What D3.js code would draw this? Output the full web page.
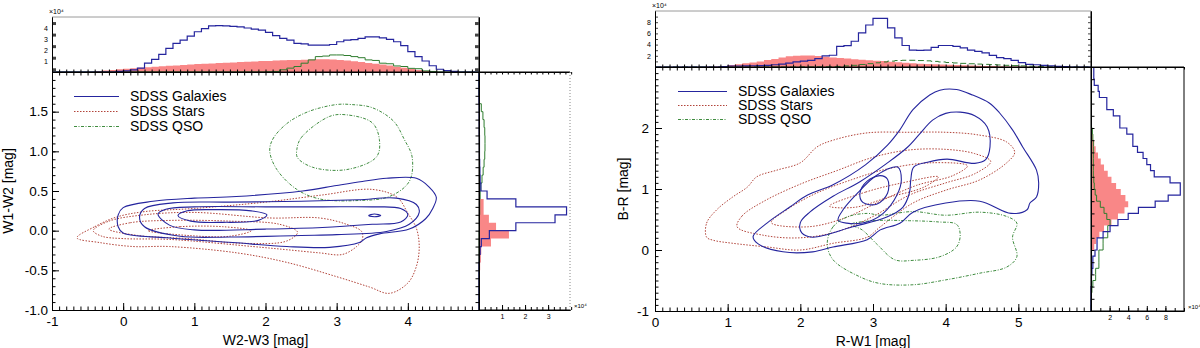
<!DOCTYPE html>
<html>
<head>
<meta charset="utf-8">
<script src="https://cdn.jsdelivr.net/npm/d3@7"></script>
<style>
body { margin: 0; background: #fff; }
svg { display: block; }
</style>
</head>
<body>
<script>
// ---------- data ----------
var seriesNames = ["SDSS Galaxies", "SDSS Stars", "SDSS QSO"];

// left panel: W2-W3 vs W1-W2
var leftTopStart = -1, leftSideStart = -1, binW = 0.1;
var leftTopGal = [0,0,0,0,0,0,0,0,0,0.05, 0.1,0.2,0.35,0.8,1.15,1.6,2.15,2.6,2.9,3.27,
  3.66,3.94,4.2,4.22,4.2,4.15,4.1,4.0,3.9,3.8, 3.6,3.3,3.06,2.9,2.6,2.55,2.45,2.45,2.45,2.5,
  2.75,2.9,2.95,3.06,3.2,3.2,3.1,2.97,2.75,2.39, 1.85,1.4,1.0,0.57,0.25,0.12,0.05,0,0,0];
var leftTopStar = [0,0,0,0,0,0.03,0.08,0.13,0.18,0.24, 0.3,0.35,0.39,0.43,0.47,0.52,0.56,0.6,0.64,0.68,
  0.72,0.75,0.78,0.81,0.84,0.87,0.9,0.93,0.96,0.99, 1.01,1.04,1.06,1.08,1.1,1.12,1.14,1.15,1.15,1.14,
  1.1,1.05,0.98,0.9,0.82,0.75,0.68,0.58,0.48,0.38, 0.28,0.19,0.1,0.04,0,0,0,0,0,0];
var leftTopQso = [0,0,0,0,0,0,0,0,0,0, 0,0,0,0,0,0,0,0,0,0, 0,0,0,0,0,0,0,0,0,0,
  0.02,0.05,0.2,0.35,0.5,0.8,1.1,1.4,1.45,1.55, 1.55,1.5,1.4,1.3,1.1,1.05,0.8,0.75,0.55,0.5,
  0.33,0.3,0.1,0.05,0,0,0,0,0,0];
var leftSideGal = [0,0,0,0,0,0,0.02,0.05,0.1,0.45, 1.6,3.3,3.8,1.6,0.35,0.08,0.05,0.04,0.03,0.02,
  0.02,0.02,0.01,0.01,0.01,0.01,0,0,0,0];
var leftSideStar = [0,0,0,0,0,0.05,0.08,0.1,0.52,1.3, 0.74,0.43,0.2,0.2,0.03,0,0,0,0,0,
  0,0,0,0,0,0,0,0,0,0];
var leftSideQso = [0.01,0.01,0.01,0.01,0.01,0.01,0.01,0.01,0.01,0.01, 0.02,0.02,0.03,0.03,0.05,0.08,0.13,0.18,0.22,0.25,
  0.26,0.26,0.25,0.22,0.17,0.1,0.02,0,0,0];

var leftGalContours = [
  [[-0.07,0.2],[0.0,0.29],[0.42,0.37],[1.0,0.41],[1.59,0.43],[2.52,0.5],[3.0,0.57],[3.36,0.62],[3.7,0.66],[4.12,0.66],[4.3,0.55],[4.4,0.42],[4.35,0.28],[4.25,0.15],[4.02,0.02],[3.6,-0.04],[3.42,-0.09],[3.32,-0.15],[2.9,-0.21],[2.3,-0.2],[1.54,-0.15],[0.61,-0.09],[0.0,-0.03],[-0.07,0.05]],
  [[0.23,0.17],[0.3,0.28],[0.7,0.35],[1.5,0.36],[2.5,0.37],[3.3,0.39],[3.84,0.41],[4.12,0.33],[4.16,0.23],[4.02,0.08],[3.7,-0.01],[3.0,-0.05],[2.5,-0.06],[1.5,-0.08],[0.8,-0.07],[0.3,0.05]],
  [[0.49,0.21],[0.6,0.27],[1.0,0.3],[2.0,0.3],[2.8,0.3],[3.5,0.3],[3.9,0.28],[4.0,0.2],[3.9,0.11],[3.5,0.08],[2.8,0.04],[2.0,0.02],[1.0,0.01],[0.65,0.07]],
  [[0.77,0.19],[0.9,0.25],[1.3,0.265],[1.8,0.25],[2.02,0.2],[1.9,0.13],[1.4,0.105],[0.95,0.12]],
  [[3.45,0.19],[3.53,0.21],[3.62,0.19],[3.53,0.175]]
];
var leftStarContours = [
  [[-0.65,-0.09],[-0.4,0.05],[-0.1,0.17],[0.3,0.24],[1.0,0.28],[2.0,0.36],[2.8,0.45],[3.5,0.52],[3.85,0.42],[4.0,0.22],[4.12,0.03],[4.16,-0.2],[4.12,-0.45],[4.0,-0.66],[3.74,-0.79],[3.46,-0.71],[3.0,-0.58],[2.3,-0.4],[1.6,-0.28],[0.65,-0.2],[0.14,-0.2],[-0.33,-0.15]],
  [[-0.42,0.0],[-0.2,0.12],[0.3,0.2],[1.0,0.23],[2.06,0.16],[2.76,0.16],[3.14,0.08],[3.35,-0.01],[3.36,-0.11],[3.28,-0.2],[3.08,-0.3],[2.76,-0.28],[2.3,-0.24],[1.82,-0.2],[0.65,-0.11],[0.0,-0.1],[-0.3,-0.07]],
  [[-0.2,0.02],[0.1,0.1],[0.7,0.13],[1.5,0.12],[2.2,0.08],[2.45,-0.02],[2.3,-0.13],[1.7,-0.16],[0.9,-0.1],[0.2,-0.06]],
  [[0.35,0.0],[0.8,0.05],[1.4,0.05],[1.8,0.0],[1.5,-0.07],[0.9,-0.06]]
];
var leftQsoContours = [
  [[2.06,1.0],[2.1,1.15],[2.3,1.35],[2.6,1.5],[3.0,1.59],[3.2,1.59],[3.5,1.55],[3.8,1.38],[3.95,1.15],[4.06,0.93],[4.02,0.62],[3.74,0.43],[3.3,0.38],[2.76,0.4],[2.44,0.52],[2.16,0.77]],
  [[2.44,1.02],[2.5,1.17],[2.9,1.44],[3.14,1.46],[3.5,1.36],[3.6,1.15],[3.56,0.93],[3.14,0.77],[2.66,0.8],[2.45,0.92]]
];

// right panel: R-W1 vs B-R
var rightTopStart = 0, rightSideStart = -1;
var rightTopGal = [0,0,0,0,0,0,0,0,0,0.05, 0.18,0.18,0.2,0.22,0.25,0.3,0.4,0.5,0.7,0.9,
  1.06,1.2,1.5,2.0,2.1,3.7,3.8,4.6,6.1,7.5, 8.7,8.7,7.0,5.2,3.84,3.0,2.96,3.0,3.5,3.84,
  3.84,3.7,3.43,3.0,2.8,2.54,2.07,1.66,1.5,1.19, 0.78,0.48,0.4,0.3,0.2,0.1,0.05,0,0,0];
var rightTopStar = [0,0,0,0,0,0,0.02,0.05,0.1,0.2, 0.35,0.5,0.65,0.8,1.0,1.25,1.45,1.7,1.9,2.0,
  2.07,2.05,1.95,1.85,1.7,1.6,1.5,1.4,1.3,1.22, 1.12,1.05,0.95,0.85,0.75,0.66,0.6,0.55,0.5,0.45,
  0.4,0.36,0.32,0.27,0.22,0.2,0.17,0.14,0.11,0.09, 0.07,0.05,0.03,0.02,0,0,0,0,0,0];
var rightTopQso = [0,0,0,0,0,0,0,0,0,0, 0,0,0,0,0,0,0,0,0,0,
  0.02,0.02,0.03,0.03,0.05,0.1,0.2,0.3,0.45,0.6, 0.75,0.9,1.05,1.15,1.2,1.2,1.15,1.1,1.0,0.9,
  0.8,0.72,0.65,0.58,0.52,0.47,0.42,0.36,0.3,0.25, 0.2,0.15,0.1,0.06,0.03,0,0,0,0,0];
var rightSideGal = [0,0,0,0,0.05,0.05,0.1,0.2,0.2,0.43, 0.65,0.65,1.3,2.05,2.9,4.0,5.1,6.9,8.3,9.6,
  9.6,8.5,6.8,6.4,6.0,5.6,5.0,4.5,4.5,3.85, 3.1,3.1,2.4,1.7,1.7,0.9,0.77,0.35,0.3,0.3];
var rightSideStar = [0,0,0,0,0,0,0,0,0,0.05, 0.35,0.55,0.9,1.4,2.2,2.9,3.6,4.0,3.7,3.2,
  2.7,2.2,1.8,1.4,1.05,0.75,0.5,0.35,0.2,0.1, 0,0,0,0,0,0,0,0,0,0];
var rightSideQso = [0,0.02,0.05,0.1,0.2,0.5,0.5,0.85,0.85,0.85, 1.3,1.3,1.8,1.8,2.05,1.7,1.4,1.0,0.6,0.45,
  0.35,0.3,0.25,0.25,0.25,0.25,0.25,0.25,0.2,0.15, 0.05,0.05,0.05,0.05,0.05,0.05,0.05,0.05,0.05,0.05];

var rightGalContours = [
  [[1.35,0.22],[1.55,0.45],[1.85,0.7],[2.1,0.9],[2.45,1.07],[2.9,1.4],[3.2,1.72],[3.37,1.97],[3.55,2.3],[3.78,2.54],[3.92,2.62],[4.15,2.63],[4.37,2.54],[4.6,2.41],[4.74,2.25],[4.92,1.97],[5.06,1.69],[5.25,1.31],[5.28,1.1],[5.25,0.87],[5.16,0.77],[5.12,0.66],[4.9,0.6],[4.47,0.8],[4.0,0.77],[3.55,0.62],[3.37,0.44],[3.1,0.33],[2.92,0.17],[2.45,0.05],[2.17,-0.03],[1.76,-0.03],[1.42,0.1]],
  [[2.0,0.45],[2.13,0.62],[2.45,0.88],[2.82,1.12],[3.19,1.42],[3.47,1.68],[3.64,1.9],[3.82,2.13],[4.0,2.24],[4.2,2.26],[4.4,2.2],[4.57,2.02],[4.61,1.69],[4.55,1.48],[4.4,1.42],[4.02,1.49],[3.75,1.44],[3.56,1.36],[3.52,1.15],[3.5,0.93],[3.41,0.7],[3.19,0.54],[2.72,0.38],[2.17,0.21],[2.02,0.28]],
  [[2.52,0.49],[2.6,0.68],[2.8,0.95],[3.0,1.18],[3.19,1.32],[3.34,1.36],[3.39,1.15],[3.33,0.9],[3.14,0.6],[2.92,0.46],[2.64,0.44]],
  [[2.82,0.93],[2.92,1.13],[3.1,1.22],[3.2,1.16],[3.2,0.93],[3.05,0.75],[2.86,0.78]]
];
var rightStarContours = [
  [[0.71,0.21],[0.71,0.44],[0.85,0.66],[1.07,0.87],[1.27,1.03],[1.4,1.2],[1.68,1.31],[2.0,1.43],[2.23,1.69],[2.45,1.8],[2.92,1.92],[3.5,1.93],[4.0,1.93],[4.43,1.89],[4.84,1.77],[4.95,1.6],[4.84,1.43],[4.47,1.15],[4.0,0.98],[3.55,0.77],[3.1,0.38],[2.92,0.21],[2.45,0.11],[2.0,0.0],[1.54,0.05],[1.07,0.11],[0.8,0.16]],
  [[1.13,0.38],[1.2,0.56],[1.5,0.8],[2.0,1.08],[2.5,1.3],[3.0,1.52],[3.5,1.64],[4.0,1.65],[4.4,1.58],[4.62,1.45],[4.4,1.25],[4.0,1.1],[3.5,0.9],[3.0,0.55],[2.5,0.3],[2.0,0.2],[1.5,0.24]],
  [[1.6,0.45],[1.8,0.65],[2.2,0.92],[2.7,1.15],[3.2,1.33],[3.8,1.43],[4.3,1.38],[4.1,1.22],[3.6,1.06],[3.1,0.8],[2.6,0.52],[2.1,0.38]],
  [[2.4,0.72],[2.9,0.95],[3.4,1.1],[3.9,1.2],[3.7,1.03],[3.2,0.86],[2.75,0.7]]
];
var rightQsoContours = [
  [[2.37,0.11],[2.45,0.38],[2.64,0.54],[2.92,0.6],[3.1,0.57],[3.55,0.63],[4.0,0.57],[4.47,0.62],[4.84,0.55],[4.98,0.44],[4.92,0.21],[4.98,-0.11],[4.84,-0.28],[4.47,-0.38],[4.0,-0.49],[3.55,-0.57],[3.1,-0.55],[2.82,-0.44],[2.45,-0.16]],
  [[2.7,0.42],[3.0,0.48],[3.5,0.48],[3.9,0.46],[4.15,0.42],[4.2,0.25],[4.15,0.05],[3.92,-0.11],[3.55,-0.17],[3.3,-0.16],[3.05,0.1],[2.85,0.33]]
];

// tick labels
var xTicksLeft = [-1, 0, 1, 2, 3, 4];
var yTicksLeft = [-1, -0.5, 0, 0.5, 1, 1.5];
var topTicksLeft = [1, 2, 3, 4];
var sideTicksLeft = [1, 2, 3];
var xTicksRight = [0, 1, 2, 3, 4, 5];
var yTicksRight = [-1, 0, 1, 2];
var topTicksRight = [2, 4, 6, 8];
var sideTicksRight = [2, 4, 6, 8];

// ---------- drawing ----------
var FONT = "'Liberation Sans', Arial, Helvetica, sans-serif";
var galColor = "#25259e", starColor = "#b2443a", qsoColor = "#3f8c3f",
    fillColor = "#f98787", histGreen = "#2f7d2f";

var svg = d3.select("body").append("svg")
    .attr("width", 1200)
    .attr("height", 348)
    .attr("font-family", FONT);

function stepTop(start, vals) {
  return vals.flatMap(function(v, i) { return [[start + i * binW, v], [start + (i + 1) * binW, v]]; });
}
function stepSide(start, vals) {
  return vals.flatMap(function(v, j) { return [[v, start + j * binW], [v, start + (j + 1) * binW]]; });
}
function styleAxis(sel, size) {
  sel.attr("font-family", FONT).attr("font-size", size);
  sel.selectAll("path, line").attr("stroke", "#000");
  sel.selectAll("text").attr("fill", "#000");
}
function minorRange(a, b, s) {
  return d3.range(Math.round(a / s), Math.round(b / s) + 1).map(function(k) { return +(k * s).toFixed(3); });
}

function drawPanel(p) {
  var g = svg.append("g");
  var x = d3.scaleLinear().domain(p.xDom).range(p.xRange);
  var y = d3.scaleLinear().domain(p.yDom).range(p.yRange);
  var yT = d3.scaleLinear().domain(p.topDom).range(p.topRange);
  var xR = d3.scaleLinear().domain(p.sideDom).range(p.sideRange);
  var L = p.xRange[0], R = p.xRange[1], B = p.yRange[0], T = p.yRange[1];

  var clipId = "clip" + p.id;
  svg.append("clipPath").attr("id", clipId).append("rect")
      .attr("x", L).attr("y", T).attr("width", R - L).attr("height", B - T);

  // ----- contours
  var cl = d3.line().x(function(d) { return x(d[0]); }).y(function(d) { return y(d[1]); })
      .curve(d3.curveCatmullRomClosed.alpha(0.5));
  var cg = g.append("g").attr("clip-path", "url(#" + clipId + ")").attr("fill", "none");
  cg.selectAll(".star").data(p.starC).enter().append("path")
      .attr("d", cl).attr("stroke", starColor).attr("stroke-width", 1).attr("stroke-dasharray", "1.5,1.5");
  cg.selectAll(".qso").data(p.qsoC).enter().append("path")
      .attr("d", cl).attr("stroke", qsoColor).attr("stroke-width", 1).attr("stroke-dasharray", "3,1.5,1,1.5");
  cg.selectAll(".gal").data(p.galC).enter().append("path")
      .attr("d", cl).attr("stroke", galColor).attr("stroke-width", 1.1);

  // ----- top histogram
  var tl = d3.line().x(function(d) { return x(d[0]); }).y(function(d) { return yT(d[1]); });
  var ta = d3.area().x(function(d) { return x(d[0]); }).y0(yT(0)).y1(function(d) { return yT(d[1]); });
  g.append("path").attr("d", ta(stepTop(p.topStart, p.topStar))).attr("fill", fillColor);
  g.append("path").attr("d", tl(stepTop(p.topStart, p.topQso))).attr("fill", "none")
      .attr("stroke", histGreen).attr("stroke-width", 1).attr("stroke-dasharray", p.topQsoDash);
  g.append("path").attr("d", tl(stepTop(p.topStart, p.topGal))).attr("fill", "none")
      .attr("stroke", galColor).attr("stroke-width", 1.2);

  // ----- side histogram
  var sl = d3.line().x(function(d) { return xR(d[0]); }).y(function(d) { return y(d[1]); });
  var sa = d3.area().y(function(d) { return y(d[1]); }).x0(xR(0)).x1(function(d) { return xR(d[0]); });
  g.append("path").attr("d", sa(stepSide(p.sideStart, p.sideStar))).attr("fill", fillColor);
  g.append("path").attr("d", sl(stepSide(p.sideStart, p.sideQso))).attr("fill", "none")
      .attr("stroke", histGreen).attr("stroke-width", 1);
  g.append("path").attr("d", sl(stepSide(p.sideStart, p.sideGal))).attr("fill", "none")
      .attr("stroke", galColor).attr("stroke-width", 1.2);

  // ----- main axes
  var xMinor = minorRange(p.xDom[0], p.xDom[1], 0.1);
  var yMinor = minorRange(p.yDom[0], p.yDom[1], 0.1);

  g.append("g").attr("transform", "translate(0," + B + ")")
      .call(d3.axisBottom(x).tickValues(xMinor).tickFormat("").tickSize(-3.5).tickSizeOuter(0))
      .call(styleAxis, 13);
  g.append("g").attr("transform", "translate(0," + B + ")")
      .call(d3.axisBottom(x).tickValues(p.xTicks).tickFormat(function(d) { return String(d); }).tickSize(-7).tickSizeOuter(0).tickPadding(6))
      .call(styleAxis, 13.5);

  g.append("g").attr("transform", "translate(" + L + ",0)")
      .call(d3.axisLeft(y).tickValues(yMinor).tickFormat("").tickSize(-3.5).tickSizeOuter(0))
      .call(styleAxis, 13);
  g.append("g").attr("transform", "translate(" + L + ",0)")
      .call(d3.axisLeft(y).tickValues(p.yTicks).tickFormat(p.yFmt).tickSize(-7).tickSizeOuter(0).tickPadding(p.yPad))
      .call(styleAxis, 13.5);

  // top edge of the main plot (also base of the top histogram)
  g.append("g").attr("transform", "translate(0," + T + ")")
      .call(d3.axisTop(x).tickValues(xMinor).tickFormat("").tickSize(-3.5).tickSizeOuter(0))
      .call(styleAxis, 8);
  g.append("g").attr("transform", "translate(0," + T + ")")
      .call(d3.axisBottom(x).tickValues(xMinor).tickFormat("").tickSize(-2.5).tickSizeOuter(0))
      .call(styleAxis, 8);
  g.append("line").attr("x1", L).attr("x2", p.sideRange[1]).attr("y1", T).attr("y2", T)
      .attr("stroke", "#000");

  // right edge of main plot (left edge of side histogram)
  g.append("g").attr("transform", "translate(" + R + ",0)")
      .call((p.rightTicksIn ? d3.axisRight(y) : d3.axisLeft(y))
        .tickValues(minorRange(p.yDom[0], p.yDom[1], p.rightStep)).tickFormat("").tickSize(-3.5).tickSizeOuter(0))
      .call(styleAxis, 8);
  g.append("line").attr("x1", R).attr("x2", R).attr("y1", p.topRange[1]).attr("y2", B)
      .attr("stroke", "#000");

  // ----- top histogram axes
  g.append("line").attr("x1", L).attr("x2", R).attr("y1", p.topRange[1]).attr("y2", p.topRange[1])
      .attr("stroke", "#9a9a9a");
  g.append("g").attr("transform", "translate(" + L + ",0)")
      .call(d3.axisLeft(yT).tickValues(p.topMarks).tickFormat("").tickSize(-p.topMarkLen).tickSizeOuter(0))
      .call(styleAxis, 7)
      .selectAll("line").attr("stroke-width", p.topMarkW).attr("stroke", "#444");
  g.append("g").attr("transform", "translate(" + L + ",0)")
      .call(d3.axisLeft(yT).tickValues(p.topTicks).tickFormat(d3.format("d")).tickSize(0).tickSizeOuter(0).tickPadding(4))
      .call(styleAxis, 7);
  g.append("g").attr("transform", "translate(" + R + ",0)")
      .call(d3.axisRight(yT).tickValues(p.topMarks).tickFormat("").tickSize(-p.topMarkLen).tickSizeOuter(0))
      .call(styleAxis, 7)
      .selectAll("line").attr("stroke-width", p.topMarkW).attr("stroke", "#444");
  g.append("text").attr("x", L - 3).attr("y", p.topRange[1] - 3)
      .attr("font-size", 7).text("×10⁴");

  // ----- side histogram axes
  var sL = p.sideRange[0], sR = p.sideRange[1];
  g.append("g").attr("transform", "translate(0," + B + ")")
      .call(d3.axisBottom(xR).tickValues(minorRange(0, p.sideDom[1] - 0.01, p.sideMinor)).tickFormat("").tickSize(-3).tickSizeOuter(0))
      .call(styleAxis, 7);
  g.append("g").attr("transform", "translate(0," + B + ")")
      .call(d3.axisBottom(xR).tickValues(p.sideTicks).tickFormat(d3.format("d")).tickSize(-5).tickSizeOuter(0).tickPadding(4))
      .call(styleAxis, 7);
  g.append("line").attr("x1", sL).attr("x2", sR).attr("y1", B).attr("y2", B).attr("stroke", "#000");
  g.append("g").attr("transform", "translate(0," + T + ")")
      .call(d3.axisTop(xR).tickValues(minorRange(0, p.sideDom[1] - 0.01, p.sideMinor)).tickFormat("").tickSize(-2.5).tickSizeOuter(0))
      .call(styleAxis, 7);
  g.append("line").attr("x1", sR).attr("x2", sR).attr("y1", T).attr("y2", B)
      .attr("stroke", p.sideEdge).attr("stroke-dasharray", p.sideEdgeDash);
  g.append("text").attr("x", sR + 4).attr("y", B - 2)
      .attr("font-size", 6).text("×10⁴");

  // ----- axis titles
  g.append("text").attr("x", (L + R) / 2).attr("y", B + 35)
      .attr("text-anchor", "middle").attr("font-size", 14).text(p.xTitle);
  g.append("text").attr("transform", "translate(" + p.yTitleX + "," + ((T + B) / 2) + ") rotate(-90)")
      .attr("text-anchor", "middle").attr("font-size", 14).text(p.yTitle);

  // ----- legend
  var styles = [
    {c: galColor, dash: null},
    {c: starColor, dash: "1.5,1.5"},
    {c: qsoColor, dash: "3,1.5,1,1.5"}
  ];
  var lg = g.append("g").attr("transform", "translate(" + p.legX + "," + p.legY + ")");
  seriesNames.forEach(function(name, i) {
    var yy = i * p.legGap + 0.5;
    lg.append("line").attr("x1", 0).attr("x2", p.legLen).attr("y1", yy).attr("y2", yy)
        .attr("stroke", styles[i].c).attr("stroke-width", 1).attr("stroke-dasharray", styles[i].dash);
    lg.append("text").attr("x", p.legLen + 11).attr("y", i * p.legGap + 5)
        .attr("font-size", 14).text(name);
  });
}

drawPanel({
  id: "L",
  xDom: [-1, 5], xRange: [52, 479], yDom: [-1, 2], yRange: [310, 72],
  topDom: [0, 5], topRange: [72, 17], sideDom: [0, 3.95], sideRange: [479, 570],
  galC: leftGalContours, starC: leftStarContours, qsoC: leftQsoContours,
  topStart: leftTopStart, topGal: leftTopGal, topStar: leftTopStar, topQso: leftTopQso, topQsoDash: null,
  sideStart: leftSideStart, sideGal: leftSideGal, sideStar: leftSideStar, sideQso: leftSideQso,
  xTicks: xTicksLeft, yTicks: yTicksLeft, yFmt: function(d) { return d.toFixed(1); }, yPad: 4,
  topTicks: topTicksLeft, topMarks: [0.25, 1.3, 2.35, 3.4, 4.45], topMarkLen: 4, topMarkW: 3,
  sideTicks: sideTicksLeft, sideMinor: 0.25, rightTicksIn: true, rightStep: 0.1,
  sideEdge: "#888", sideEdgeDash: "1,2",
  xTitle: "W2-W3 [mag]", yTitle: "W1-W2 [mag]", yTitleX: 13,
  legX: 74, legY: 96, legLen: 45, legGap: 15
});

drawPanel({
  id: "R",
  xDom: [0, 6], xRange: [655, 1091], yDom: [-1, 3], yRange: [311, 67],
  topDom: [0, 10], topRange: [67, 11], sideDom: [0, 10], sideRange: [1091, 1184],
  galC: rightGalContours, starC: rightStarContours, qsoC: rightQsoContours,
  topStart: rightTopStart, topGal: rightTopGal, topStar: rightTopStar, topQso: rightTopQso, topQsoDash: "6,3",
  sideStart: rightSideStart, sideGal: rightSideGal, sideStar: rightSideStar, sideQso: rightSideQso,
  xTicks: xTicksRight, yTicks: yTicksRight, yFmt: function(d) { return String(d); }, yPad: 6,
  topTicks: topTicksRight, topMarks: [1, 2, 3, 4, 5, 6, 7, 8, 9], topMarkLen: 3, topMarkW: 1,
  sideTicks: sideTicksRight, sideMinor: 1, rightTicksIn: false, rightStep: 0.2,
  sideEdge: "#000", sideEdgeDash: null,
  xTitle: "R-W1 [mag]", yTitle: "B-R [mag]", yTitleX: 628,
  legX: 678, legY: 91, legLen: 49, legGap: 14
});
</script>
</body>
</html>
